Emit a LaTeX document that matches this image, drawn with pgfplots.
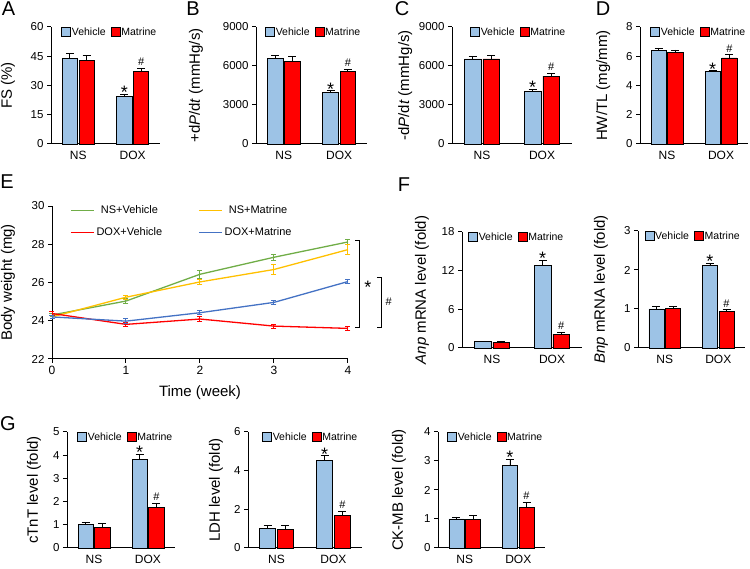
\documentclass[border=0pt]{standalone}
\usepackage{fontspec}
\setmainfont{Liberation Sans}
\usepackage{pgfplots}
\pgfplotsset{compat=1.18}
\definecolor{vblue}{RGB}{157,195,230}
\definecolor{mred}{RGB}{255,0,0}
\definecolor{lgreen}{RGB}{112,173,71}
\definecolor{lyellow}{RGB}{255,192,0}
\definecolor{lred}{RGB}{255,0,0}
\definecolor{lblue}{RGB}{68,114,196}
\newcommand{\fs}[1]{\fontsize{#1}{#1}\selectfont}
\newcommand{\sig}[2]{\node[anchor=base,font=\fs{18},inner sep=0pt,yshift=-4.5pt] at (axis cs:#1,#2) {*};}
\newcommand{\hsh}[2]{\node[anchor=base,font=\fs{11},inner sep=0pt,yshift=2.5pt] at (axis cs:#1,#2) {\#};}
\pgfplotsset{
  common/.style={scale only axis, anchor=south west, axis x line*=bottom, axis y line*=left,
    /pgf/number format/assume math mode=true, /pgf/number format/1000 sep={},
    tick label style={font=\fs{11.5}}, x tick label style={font=\fs{12}}, label style={font=\fs{15}},
    tick align=outside, axis line style={line width=1pt}, tick style={line width=1pt, black},
    major tick length=4pt, clip=false},
  barax/.style={common, ymin=0, xmin=-0.5, xmax=1.5, xtick={0,1}, xticklabels={NS,DOX},
    x tick style={draw=none},
    legend style={anchor=west, draw=none, fill=none, legend columns=2, font=\fs{10.5}, inner sep=0pt,
      nodes={inner sep=1pt},
      /tikz/every even column/.append style={column sep=4pt}},
    legend image code/.code={\draw[##1,draw=black,line width=0.6pt] (0pt,-4.5pt) rectangle (9pt,4.5pt);}},
  lg/.style={legend style={at={(axis description cs:#1,0.955)}}},
  yl/.style={ylabel style={at={(axis description cs:#1,0.5)}, anchor=center}},
  barbase/.style={ybar, bar width=0.28, bar shift=0, draw=black, line width=0.8pt,
    error bars/y dir=plus, error bars/y explicit,
    error bars/error bar style={black, line width=0.8pt},
    error bars/error mark options={rotate=90, black, mark size=4pt, line width=0.8pt}},
  vplot/.style={barbase, fill=vblue},
  mplot/.style={barbase, fill=mred},
  lplot/.style={color=#1, line width=1.3pt, mark=none,
    error bars/y dir=both, error bars/y explicit,
    error bars/error bar style={#1, line width=1pt},
    error bars/error mark options={rotate=90, #1, mark size=2.5pt, line width=1pt}},
  lineleg/.style={legend image code/.code={\draw[##1] (0pt,0pt) -- (23pt,0pt);}},
}
\begin{document}
\begin{tikzpicture}
\useasboundingbox (0pt,0pt) rectangle (750pt,569pt);
% panel letters
\node[font=\fs{20}] at (8.5pt,560pt) {A};
\node[font=\fs{20}] at (193pt,560pt) {B};
\node[font=\fs{20}] at (402pt,560pt) {C};
\node[font=\fs{20}] at (603pt,560pt) {D};
\node[font=\fs{20}] at (7pt,387pt) {E};
\node[font=\fs{20}] at (404pt,384pt) {F};
\node[font=\fs{20}] at (8pt,145pt) {G};

% A
\begin{axis}[barax, at={(51pt,425pt)}, width=109pt, height=117pt, ymax=60, ytick={0,15,...,60},
  ylabel={FS (\%)}, yl=-0.394, lg=0.092]
\addplot[vplot] coordinates {(-0.155,44.0) +- (0,2.5) (0.845,24.3) +- (0,1.3)};
\addplot[mplot] coordinates {(0.155,42.7) +- (0,2.5) (1.155,37.1) +- (0,1.7)};
\legend{Vehicle,Matrine}
\sig{0.845}{25.6}
\hsh{1.155}{38.8}
\end{axis}

% B
\begin{axis}[barax, at={(256pt,425pt)}, width=111pt, height=117pt, ymax=9000, ytick={0,3000,...,9000},
  ylabel={+d\textit{P}/d\textit{t} (mmHg/s)}, yl=-0.54, lg=0.081]
\addplot[vplot] coordinates {(-0.155,6570) +- (0,210) (0.845,3940) +- (0,150)};
\addplot[mplot] coordinates {(0.155,6370) +- (0,330) (1.155,5550) +- (0,200)};
\legend{Vehicle,Matrine}
\sig{0.845}{4090}
\hsh{1.155}{5750}
\end{axis}

% C
\begin{axis}[barax, at={(452pt,425pt)}, width=120pt, height=117pt, ymax=9000, ytick={0,3000,...,9000},
  ylabel={-d\textit{P}/d\textit{t} (mmHg/s)}, yl=-0.39, lg=0.15]
\addplot[vplot] coordinates {(-0.155,6540) +- (0,180) (0.845,4045) +- (0,175)};
\addplot[mplot] coordinates {(0.155,6540) +- (0,300) (1.155,5215) +- (0,230)};
\legend{Vehicle,Matrine}
\sig{0.845}{4220}
\hsh{1.155}{5445}
\end{axis}

% D
\begin{axis}[barax, at={(640pt,425pt)}, width=108pt, height=117pt, ymax=8, ytick={0,2,...,8},
  ylabel={HW/TL (mg/mm)}, yl=-0.34, lg=0.093]
\addplot[vplot] coordinates {(-0.155,6.38) +- (0,0.19) (0.845,4.93) +- (0,0.09)};
\addplot[mplot] coordinates {(0.155,6.27) +- (0,0.16) (1.155,5.88) +- (0,0.23)};
\legend{Vehicle,Matrine}
\sig{0.845}{5.02}
\hsh{1.155}{6.11}
\end{axis}

% E
\begin{axis}[common, lineleg, at={(52pt,210pt)}, width=296pt, height=153pt, xmin=0, xmax=4, ymin=22, ymax=30,
  xtick={0,...,4}, ytick={22,24,...,30}, xlabel={Time (week)}, ylabel={Body weight (mg)}, yl=-0.149,
  xlabel style={yshift=-4pt},
  legend columns=2,
  legend style={at={(axis description cs:0.061,1.018)}, anchor=north west, draw=none, fill=none,
    font=\fs{11}, inner sep=0pt, row sep=9pt, /tikz/every even column/.append style={column sep=34pt}}]
\addplot[lplot=lgreen] coordinates {(0,24.30) +- (0,0.10) (1,25.03) +- (0,0.15) (2,26.43) +- (0,0.20) (3,27.32) +- (0,0.15) (4,28.12) +- (0,0.15)};
\addplot[lplot=lyellow] coordinates {(0,24.20) +- (0,0.10) (1,25.23) +- (0,0.10) (2,26.03) +- (0,0.15) (3,26.68) +- (0,0.25) (4,27.72) +- (0,0.25)};
\addplot[lplot=lred] coordinates {(0,24.38) +- (0,0.10) (1,23.81) +- (0,0.10) (2,24.09) +- (0,0.12) (3,23.72) +- (0,0.10) (4,23.60) +- (0,0.12)};
\addplot[lplot=lblue] coordinates {(0,24.20) +- (0,0.10) (1,23.98) +- (0,0.12) (2,24.42) +- (0,0.10) (3,24.96) +- (0,0.10) (4,26.05) +- (0,0.10)};
\legend{NS+Vehicle,NS+Matrine,DOX+Vehicle,DOX+Matrine}
\draw[line width=1pt] (axis cs:4.10,28.17) -- (axis cs:4.16,28.17) -- (axis cs:4.16,23.67) -- (axis cs:4.10,23.67);
\draw[line width=1pt] (axis cs:4.39,26.25) -- (axis cs:4.45,26.25) -- (axis cs:4.45,23.67) -- (axis cs:4.39,23.67);
\node[font=\fs{18},inner sep=0pt,anchor=center] at (axis cs:4.27,25.77) {*};
\node[font=\fs{11},inner sep=0pt,anchor=center] at (axis cs:4.55,24.98) {\#};
\end{axis}

% F Anp
\begin{axis}[barax, at={(462pt,221pt)}, width=120pt, height=116pt, ymax=18, ytick={0,6,...,18},
  ylabel={\textit{Anp} mRNA level (fold)}, yl=-0.333, lg=0.05]
\addplot[vplot] coordinates {(-0.155,1.0) +- (0,0.08) (0.845,12.86) +- (0,0.77)};
\addplot[mplot] coordinates {(0.155,0.92) +- (0,0.08) (1.155,2.16) +- (0,0.25)};
\legend{Vehicle,Matrine}
\sig{0.845}{13.63}
\hsh{1.155}{2.41}
\end{axis}

% F Bnp
\begin{axis}[barax, at={(638pt,221pt)}, width=107pt, height=117pt, ymax=3, ytick={0,1,...,3},
  ylabel={\textit{Bnp} mRNA level (fold)}, yl=-0.346, lg=0.06]
\addplot[vplot] coordinates {(-0.155,1.0) +- (0,0.06) (0.845,2.12) +- (0,0.06)};
\addplot[mplot] coordinates {(0.155,1.01) +- (0,0.05) (1.155,0.93) +- (0,0.05)};
\legend{Vehicle,Matrine}
\sig{0.845}{2.18}
\hsh{1.155}{0.98}
\end{axis}

% G cTnT
\begin{axis}[barax, at={(67pt,21pt)}, width=108pt, height=116pt, ymax=5, ytick={0,1,...,5},
  ylabel={cTnT level (fold)}, yl=-0.306, lg=0.093]
\addplot[vplot] coordinates {(-0.155,1.0) +- (0,0.11) (0.845,3.81) +- (0,0.23)};
\addplot[mplot] coordinates {(0.155,0.90) +- (0,0.17) (1.155,1.76) +- (0,0.17)};
\legend{Vehicle,Matrine}
\sig{0.845}{4.04}
\hsh{1.155}{1.93}
\end{axis}

% G LDH
\begin{axis}[barax, at={(248pt,21pt)}, width=114pt, height=116pt, ymax=6, ytick={0,2,...,6},
  ylabel={LDH level (fold)}, yl=-0.28, lg=0.123]
\addplot[vplot] coordinates {(-0.155,1.01) +- (0,0.14) (0.845,4.51) +- (0,0.26)};
\addplot[mplot] coordinates {(0.155,0.94) +- (0,0.23) (1.155,1.70) +- (0,0.19)};
\legend{Vehicle,Matrine}
\sig{0.845}{4.77}
\hsh{1.155}{1.89}
\end{axis}

% G CK-MB
\begin{axis}[barax, at={(438pt,21pt)}, width=107pt, height=116pt, ymax=4, ytick={0,1,...,4},
  ylabel={CK-MB level (fold)}, yl=-0.364, lg=0.084]
\addplot[vplot] coordinates {(-0.155,1.0) +- (0,0.07) (0.845,2.86) +- (0,0.21)};
\addplot[mplot] coordinates {(0.155,0.97) +- (0,0.16) (1.155,1.41) +- (0,0.16)};
\legend{Vehicle,Matrine}
\sig{0.845}{3.07}
\hsh{1.155}{1.57}
\end{axis}
\end{tikzpicture}
\end{document}
